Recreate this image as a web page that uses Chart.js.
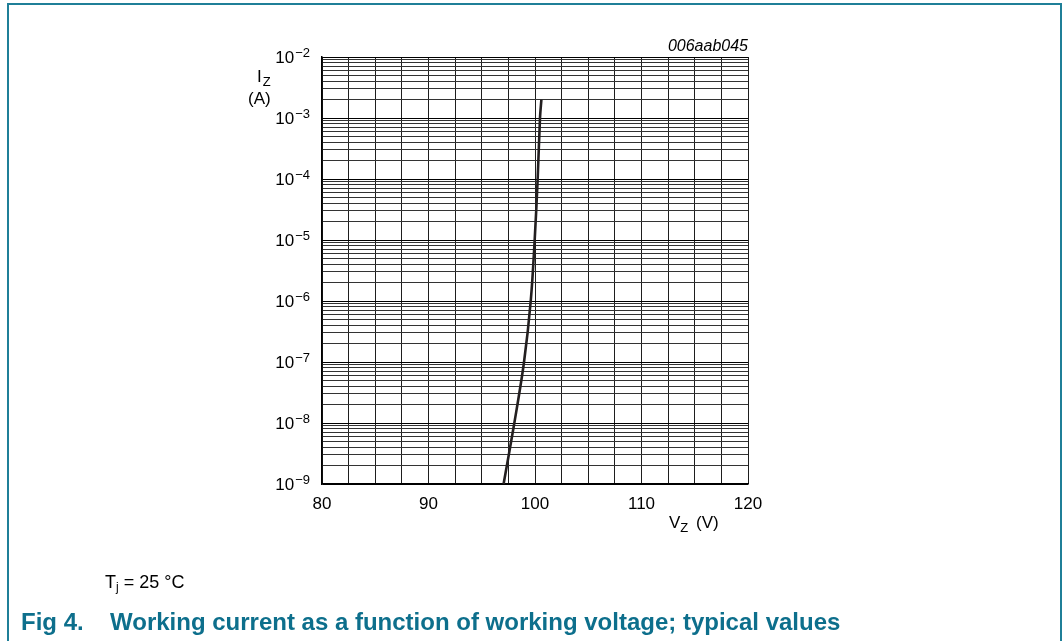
<!DOCTYPE html>
<html>
<head>
<meta charset="utf-8">
<script src="https://cdn.jsdelivr.net/npm/chart.js@4/dist/chart.umd.min.js"></script>
<style>
  html,body{margin:0;padding:0;background:#fff;}
  #wrap{position:relative;width:1063px;height:641px;overflow:hidden;font-family:"Liberation Sans",Arial,sans-serif;}
  #chartBox{position:absolute;left:0;top:0;width:1063px;height:641px;}
  .frameL{position:absolute;left:7px;top:4px;width:2px;height:637px;background:#1f7f98;}
  .frameT{position:absolute;left:7px;top:3px;width:1055px;height:2px;background:#1f7f98;}
  .frameR{position:absolute;left:1060px;top:3px;width:2px;height:638px;background:#1f7f98;}
  #tj{position:absolute;left:105px;top:572px;font-size:18px;color:#000;white-space:nowrap;}
  #tj sub{font-size:12px;vertical-align:-3px;}
  #cap{position:absolute;left:21px;top:608px;font-size:24px;font-weight:bold;color:#0d6f8c;white-space:nowrap;}
  #cap .num{display:inline-block;width:89px;}
</style>
</head>
<body>
<div id="wrap">
  <div id="chartBox"><canvas id="c"></canvas></div>
  <div class="frameL"></div><div class="frameT"></div><div class="frameR"></div>
  <div id="tj">T<sub>j</sub> = 25 °C</div>
  <div id="cap"><span class="num">Fig 4.</span>Working current as a function of working voltage; typical values</div>
</div>
<script>
// ---- data ----
const vzVolts = [97.05, 98.06, 98.97, 99.6, 99.97, 100.25, 100.47, 100.6];
const izAmps  = [1e-9, 1e-8, 1e-7, 1e-6, 1e-5, 1e-4, 1e-3, 2e-3];
const xTickValues = [80, 82.5, 85, 87.5, 90, 92.5, 95, 97.5, 100, 102.5, 105, 107.5, 110, 112.5, 115, 117.5, 120];
const xTickLabels = ['80', '90', '100', '110', '120'];
const yDecadeExponents = [-9, -8, -7, -6, -5, -4, -3, -2];
const yMinorMultipliers = [2, 3, 4, 5, 6, 7, 8, 9];
const yTickLabels = ['10−9', '10−8', '10−7', '10−6', '10−5', '10−4', '10−3', '10−2'];
const chartCode = '006aab045';

// build y grid ticks (decades + minor)
const yTickValues = [];
yDecadeExponents.forEach((e, i) => {
  yTickValues.push({value: Math.pow(10, e), major: true});
  if (i < yDecadeExponents.length - 1) {
    yMinorMultipliers.forEach(m => yTickValues.push({value: +(m * Math.pow(10, e)).toPrecision(3), major: false}));
  }
});

const points = vzVolts.map((v, i) => ({x: v, y: izAmps[i]}));

const FONT = '"Liberation Sans", Arial, sans-serif';

const labelPlugin = {
  id: 'labels',
  afterDraw(chart) {
    const ctx = chart.ctx;
    const ys = chart.scales.y;
    const area = chart.chartArea;
    ctx.save();
    ctx.fillStyle = '#000';
    // y tick labels with superscript exponents
    yDecadeExponents.forEach((e, i) => {
      const y = ys.getPixelForValue(Math.pow(10, e));
      const lab = yTickLabels[i];
      const base = lab.slice(0, 2), expo = lab.slice(2);
      ctx.font = '13px ' + FONT;
      const ew = ctx.measureText(expo).width;
      const rightEdge = area.left - 12;
      ctx.textAlign = 'right';
      ctx.textBaseline = 'alphabetic';
      ctx.fillText(expo, rightEdge, y);
      ctx.font = '17px ' + FONT;
      ctx.textBaseline = 'middle';
      ctx.fillText(base, rightEdge - ew - 1, y + 1);
    });
    // y axis title
    ctx.textAlign = 'left';
    ctx.textBaseline = 'alphabetic';
    ctx.font = '17px ' + FONT;
    ctx.fillText('I', 257, 82);
    const iw = ctx.measureText('I').width;
    ctx.font = '13px ' + FONT;
    ctx.fillText('Z', 257 + iw + 1, 86);
    ctx.font = '17px ' + FONT;
    ctx.fillText('(A)', 248, 104);
    // x axis title
    ctx.font = '17px ' + FONT;
    ctx.fillText('V', 669, 528);
    const vw = ctx.measureText('V').width;
    ctx.font = '13px ' + FONT;
    ctx.fillText('Z', 669 + vw, 532);
    ctx.font = '17px ' + FONT;
    ctx.fillText('(V)', 696, 528);
    // figure code
    ctx.font = 'italic 16px ' + FONT;
    ctx.textAlign = 'right';
    ctx.fillText(chartCode, area.right, 51);
    ctx.restore();
  }
};

new Chart(document.getElementById('c'), {
  type: 'scatter',
  data: {
    datasets: [{
      data: points,
      showLine: true,
      borderColor: '#231f20',
      borderWidth: 2.6,
      pointRadius: 0,
      fill: false,
      tension: 0.35
    }]
  },
  options: {
    responsive: true,
    maintainAspectRatio: false,
    animation: false,
    layout: {padding: {left: 262, right: 315, top: 57, bottom: 117}},
    plugins: {legend: {display: false}, tooltip: {enabled: false}},
    scales: {
      x: {
        type: 'linear', min: 80, max: 120,
        afterBuildTicks: s => { s.ticks = xTickValues.map(v => ({value: v})); },
        afterFit: s => { s.height = 40; },
        ticks: {
          autoSkip: false, maxRotation: 0, padding: 10,
          color: '#000', font: {family: FONT, size: 17},
          callback: v => (xTickLabels.includes(String(v)) ? String(v) : '')
        },
        grid: {color: '#1e1e1e', lineWidth: 1, drawTicks: false},
        border: {color: '#000', width: 1.5}
      },
      y: {
        type: 'logarithmic', min: 1e-9, max: 1e-2,
        afterBuildTicks: s => { s.ticks = yTickValues.map(t => ({value: t.value, major: t.major})); },
        afterFit: s => { s.width = 60; },
        ticks: {autoSkip: false, callback: () => '', font: {size: 1}},
        grid: {
          color: c => (c.tick && c.tick.major ? '#000' : '#333'),
          lineWidth: 1, drawTicks: false
        },
        border: {color: '#000', width: 1.5}
      }
    }
  },
  plugins: [labelPlugin]
});
</script>
</body>
</html>
